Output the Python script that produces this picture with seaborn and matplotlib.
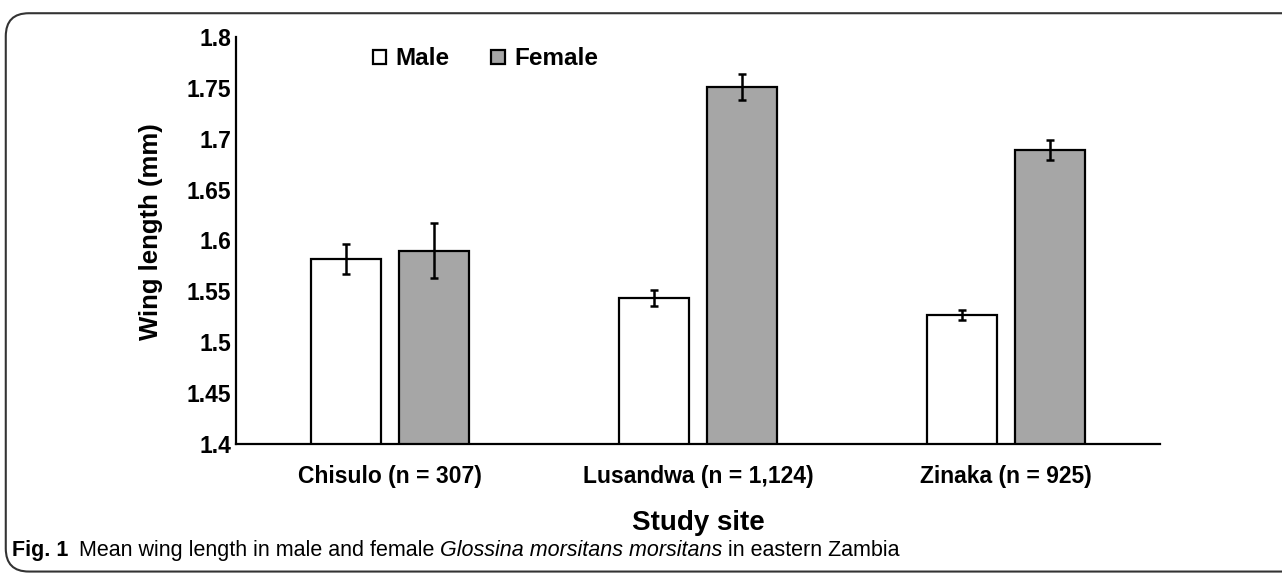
import matplotlib
matplotlib.use("Agg")
import matplotlib.pyplot as plt
from matplotlib.patches import FancyBboxPatch
import numpy as np
import pandas as pd
import seaborn as sns

sites = ["Chisulo (n = 307)", "Lusandwa (n = 1,124)", "Zinaka (n = 925)"]
male_mean = [1.582, 1.5435, 1.527]
female_mean = [1.590, 1.751, 1.689]
male_err = [0.0145, 0.008, 0.005]
female_err = [0.027, 0.013, 0.010]
yticks = [1.4, 1.45, 1.5, 1.55, 1.6, 1.65, 1.7, 1.75, 1.8]
ytick_labels = ["1.4", "1.45", "1.5", "1.55", "1.6", "1.65", "1.7", "1.75", "1.8"]

df = pd.DataFrame({
    "site": sites * 2,
    "sex": ["Male"] * 3 + ["Female"] * 3,
    "length": male_mean + female_mean,
    "err": male_err + female_err,
})

sns.set_style("white")
plt.rcParams["font.family"] = ["Liberation Sans", "DejaVu Sans"]
plt.rcParams.update({"text.color": "black", "axes.labelcolor": "black",
                     "xtick.color": "black", "ytick.color": "black"})

fig = plt.figure(figsize=(12.82, 5.75), dpi=100)
ax = fig.add_axes([0.1841, 0.2278, 0.7207, 0.7079])

sns.barplot(data=df, x="site", y="length", hue="sex", ax=ax,
            palette={"Male": "white", "Female": "#a6a6a6"},
            width=0.571, gap=0.2045, edgecolor="black", linewidth=1.6,
            saturation=1, errorbar=None)

# error bars on the bar centres
for bars, sex in zip(ax.containers, ["Male", "Female"]):
    sub = df[df.sex == sex]
    xs = [b.get_x() + b.get_width() / 2 for b in bars]
    ax.errorbar(xs, sub["length"], yerr=sub["err"], fmt="none",
                ecolor="black", elinewidth=1.8, capsize=3, capthick=1.8)

ax.set_ylim(1.4, 1.8)
ax.set_xlim(-0.5, 2.5)
ax.set_yticks(yticks)
ax.set_yticklabels(ytick_labels, fontsize=16.5, fontweight="bold")
for t in ax.get_xticklabels():
    t.set_fontsize(16.5)
    t.set_fontweight("bold")
ax.tick_params(axis="both", length=0)
ax.tick_params(axis="y", pad=3.5)
ax.tick_params(axis="x", pad=15)
sns.despine(ax=ax)
for s in ["left", "bottom"]:
    ax.spines[s].set_color("black")
    ax.spines[s].set_linewidth(1.6)

ax.set_ylabel("Wing length (mm)", fontsize=18.5, fontweight="bold", labelpad=17)
ax.yaxis.label.set_y(0.523)
ax.set_xlabel("Study site", fontsize=20, fontweight="bold", labelpad=16)

leg = ax.legend(loc="center left", bbox_to_anchor=(0.148, 0.946), ncol=2,
                frameon=False, handlelength=0.55, handleheight=0.55,
                handletextpad=0.4, columnspacing=1.7, borderpad=0,
                borderaxespad=0, prop={"size": 17.5, "weight": "bold"})
for h in leg.legend_handles:
    h.set_linewidth(1.6)

# caption, pieces chained one after another
cap_font = 15.5
t1 = fig.text(0.0095, 0.043, "Fig. 1", fontsize=cap_font, fontweight="bold", va="center")
t2 = ax.annotate(" Mean wing length in male and female ", xy=(1, 0.5), xycoords=t1,
                 xytext=(3, 0), textcoords="offset points",
                 va="center", fontsize=cap_font, annotation_clip=False)
t3 = ax.annotate("Glossina morsitans morsitans", xy=(1, 0.5), xycoords=t2,
                 va="center", fontsize=cap_font, style="italic", annotation_clip=False)
ax.annotate(" in eastern Zambia", xy=(1, 0.5), xycoords=t3,
            va="center", fontsize=cap_font, annotation_clip=False)

frame = FancyBboxPatch((0.0045, 0.006), 1.1, 0.971, transform=fig.transFigure,
                       boxstyle="round,pad=0,rounding_size=0.018",
                       facecolor="none", edgecolor="#333333", linewidth=1.5,
                       mutation_aspect=1282 / 575)
fig.patches.append(frame)

fig.savefig("out.png", dpi=100)
